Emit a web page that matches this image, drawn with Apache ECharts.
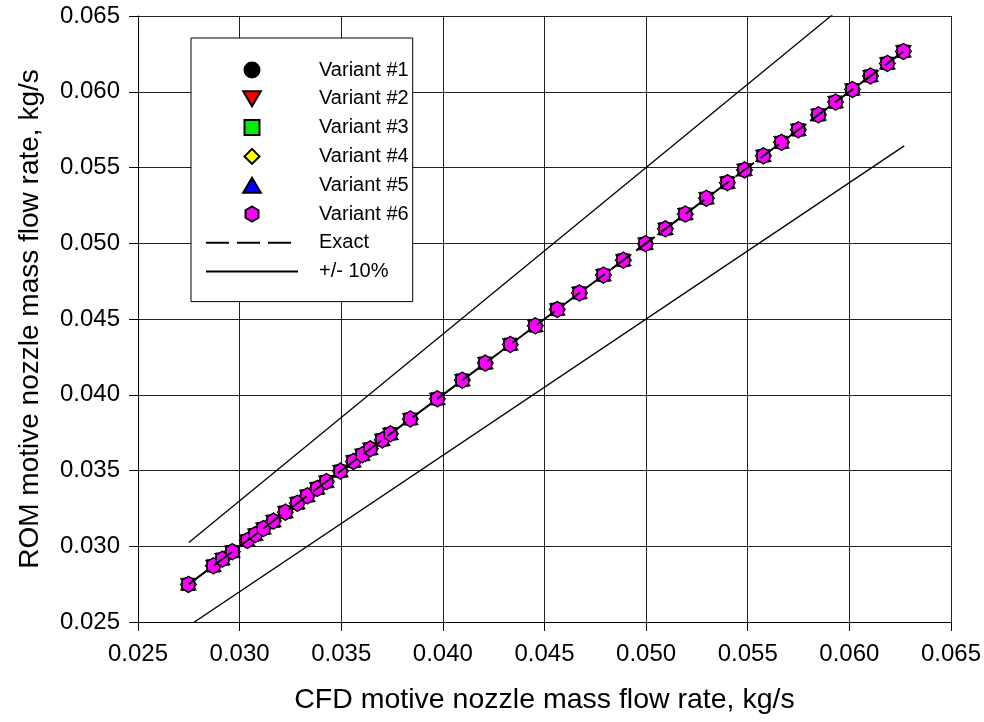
<!DOCTYPE html>
<html>
<head>
<meta charset="utf-8">
<script src="https://cdn.jsdelivr.net/npm/echarts@6/dist/echarts.min.js"></script>
<style>
html,body{margin:0;padding:0;background:#fff;}
#chart{width:984px;height:722px;}
</style>
</head>
<body>
<div id="chart"></div>
<script>
// CFD (x) and ROM (y) motive nozzle mass flow rates, kg/s
var cfd = [0.02748, 0.02871, 0.02915, 0.02964, 0.03038, 0.03077, 0.03117, 0.03166, 0.03225, 0.03284,
           0.03333, 0.03382, 0.03427, 0.03496, 0.03560, 0.03604, 0.03643, 0.03702, 0.03742, 0.03840,
           0.03973, 0.04096, 0.04209, 0.04332, 0.04455, 0.04563, 0.04672, 0.04790, 0.04888, 0.04997,
           0.05095, 0.05193, 0.05297, 0.05400, 0.05484, 0.05577, 0.05666, 0.05749, 0.05848, 0.05932,
           0.06015, 0.06104, 0.06187, 0.06266];
var rom = [0.02748, 0.02871, 0.02915, 0.02964, 0.03038, 0.03077, 0.03117, 0.03166, 0.03225, 0.03284,
           0.03333, 0.03382, 0.03427, 0.03496, 0.03560, 0.03604, 0.03643, 0.03702, 0.03742, 0.03840,
           0.03973, 0.04096, 0.04209, 0.04332, 0.04455, 0.04563, 0.04672, 0.04790, 0.04888, 0.04997,
           0.05095, 0.05193, 0.05297, 0.05400, 0.05484, 0.05577, 0.05666, 0.05749, 0.05848, 0.05932,
           0.06015, 0.06104, 0.06187, 0.06266];
var variantNames = ['Variant #1', 'Variant #2', 'Variant #3', 'Variant #4', 'Variant #5', 'Variant #6'];
var refX = [0.0275, 0.0627];
var exactY = [0.0275, 0.0627];
var plus10Y = [0.03025, 0.06897];
var minus10Y = [0.02475, 0.05643];
var tickLabels = ['0.025', '0.030', '0.035', '0.040', '0.045', '0.050', '0.055', '0.060', '0.065'];

var HEX = 'path://M0,-10 L8.66,-5 L8.66,5 L0,10 L-8.66,5 L-8.66,-5 Z';
var markerStyles = [
  { symbol: 'circle', size: 14, color: '#000000' },
  { symbol: 'path://M0,10 L10,-7 L-10,-7 Z', size: [15, 13], color: '#ff0000' },
  { symbol: 'path://M-6,-6 L6,-6 L6,6 L-6,6 Z', size: 12, color: '#00ee00' },
  { symbol: 'path://M0,-8 L8,0 L0,8 L-8,0 Z', size: 16, color: '#ffff00' },
  { symbol: 'path://M0,-7 L10,10 L-10,10 Z', size: [15, 13], color: '#0000ff' },
  { symbol: HEX, size: [14, 16], color: '#ff00ff' }
];

function pairs(xs, ys) { return xs.map(function (x, i) { return [x, ys[i]]; }); }

var series = [];
variantNames.forEach(function (name, i) {
  var m = markerStyles[i];
  series.push({
    name: name, type: 'scatter', data: pairs(cfd, rom),
    symbol: m.symbol, symbolSize: m.size, symbolKeepAspect: true,
    itemStyle: { color: m.color, borderColor: '#000', borderWidth: 1.2, opacity: 1 },
    z: 3 + i, emphasis: { disabled: true }
  });
});
series.push({
  name: 'Exact', type: 'line', data: pairs(refX, exactY), symbol: 'none',
  itemStyle: { color: 'rgba(0,0,0,0)' },
  lineStyle: { color: '#000', width: 2, type: [23, 8] }, z: 20, silent: true
});
series.push({
  name: '+/- 10%', type: 'line', data: pairs(refX, plus10Y), symbol: 'none',
  itemStyle: { color: 'rgba(0,0,0,0)' },
  lineStyle: { color: '#000', width: 1.3 }, z: 2, silent: true
});
series.push({
  name: '+/- 10%', type: 'line', data: pairs(refX, minus10Y), symbol: 'none',
  itemStyle: { color: 'rgba(0,0,0,0)' },
  lineStyle: { color: '#000', width: 1.3 }, z: 2, silent: true
});

var legendData = variantNames.map(function (n) { return { name: n }; }).concat([
  { name: 'Exact', itemStyle: { color: 'rgba(0,0,0,0)', borderColor: 'rgba(0,0,0,0)', borderWidth: 0 } },
  { name: '+/- 10%', itemStyle: { color: 'rgba(0,0,0,0)', borderColor: 'rgba(0,0,0,0)', borderWidth: 0 } }
]);

var FONT = 'Liberation Sans';
var chart = echarts.init(document.getElementById('chart'), null, { renderer: 'canvas' });
chart.setOption({
  backgroundColor: '#ffffff',
  animation: false,
  textStyle: { fontFamily: FONT, color: '#000' },
  grid: { left: 138, right: 33, top: 16, bottom: 100, containLabel: false },
  xAxis: {
    type: 'value', min: 0.025, max: 0.065, interval: 0.005,
    name: 'CFD motive nozzle mass flow rate, kg/s', nameLocation: 'middle', nameGap: 64,
    nameTextStyle: { fontFamily: FONT, fontSize: 28.5, color: '#000' },
    axisLine: { show: true, onZero: false, lineStyle: { color: '#000', width: 1 } },
    axisTick: { show: true, inside: false, length: 9, lineStyle: { color: '#000' } },
    axisLabel: { margin: 20, fontFamily: FONT, fontSize: 24, color: '#000',
      formatter: function (v) { return tickLabels[Math.round((v - 0.025) / 0.005)]; } },
    splitLine: { show: true, lineStyle: { color: '#222', width: 1 } }
  },
  yAxis: {
    type: 'value', min: 0.025, max: 0.065, interval: 0.005,
    name: 'ROM motive nozzle mass flow rate, kg/s', nameLocation: 'middle', nameGap: 94,
    nameTextStyle: { fontFamily: FONT, fontSize: 28, color: '#000' },
    axisLine: { show: true, onZero: false, lineStyle: { color: '#000', width: 1 } },
    axisTick: { show: true, inside: false, length: 9, lineStyle: { color: '#000' } },
    axisLabel: { margin: 18, fontFamily: FONT, fontSize: 24, color: '#000',
      formatter: function (v) { return tickLabels[Math.round((v - 0.025) / 0.005)]; } },
    splitLine: { show: true, lineStyle: { color: '#222', width: 1 } }
  },
  legend: {
    show: true, orient: 'vertical', left: 191, top: 38,
    data: legendData,
    itemWidth: 92, itemHeight: 15, itemGap: 8.8,
    padding: [22, 4, 20, 14],
    borderColor: '#000', borderWidth: 1, backgroundColor: '#fff',
    selectedMode: false, symbolKeepAspect: true,
    textStyle: { fontFamily: FONT, fontSize: 20, color: '#000', lineHeight: 20, padding: [0, 0, 0, 16] }
  },
  series: series
});
</script>
</body>
</html>
